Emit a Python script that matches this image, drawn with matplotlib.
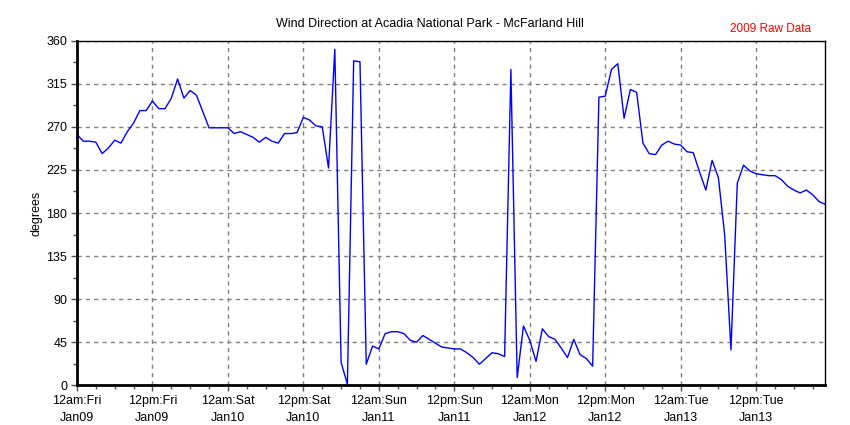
import matplotlib
matplotlib.use("Agg")
import matplotlib.pyplot as plt
from matplotlib.ticker import MultipleLocator

plt.rcParams['font.family'] = ['Liberation Sans', 'DejaVu Sans']

# hourly wind direction, starting 12am Fri Jan09
hours = list(range(120))
direction = [
    262, 255, 255, 254, 242, 248, 256, 253, 265, 274,
    287, 287, 297, 289, 289, 300, 320, 300, 308, 303,
    286, 269, 269, 269, 269, 263, 265, 262, 259, 254,
    259, 255, 253, 263, 263, 264, 280, 277, 271, 270,
    227, 351, 24, 1, 339, 338, 22, 41, 38, 54,
    56, 56, 54, 47, 45, 52, 48, 44, 40, 39,
    38, 38, 34, 29, 22, 28, 34, 33, 30, 330,
    8, 62, 47, 25, 59, 51, 48, 39, 29, 48,
    32, 28, 20, 301, 302, 330, 336, 279, 309, 306,
    253, 242, 241, 251, 255, 252, 251, 244, 243, 223,
    204, 235, 217, 157, 37, 211, 230, 224, 221, 220,
    219, 219, 215, 208, 204, 201, 204, 199, 192, 189,
]

tick_hours = [0, 12, 24, 36, 48, 60, 72, 84, 96, 108]
tick_labels = [
    "12am:Fri\nJan09", "12pm:Fri\nJan09", "12am:Sat\nJan10", "12pm:Sat\nJan10",
    "12am:Sun\nJan11", "12pm:Sun\nJan11", "12am:Mon\nJan12", "12pm:Mon\nJan12",
    "12am:Tue\nJan13", "12pm:Tue\nJan13",
]
y_ticks = [0, 45, 90, 135, 180, 225, 270, 315, 360]

fig = plt.figure(figsize=(8.5, 4.25), dpi=100)
ax = fig.add_axes([77 / 850, 1 - 385.3 / 425, (825.3 - 77) / 850, (385.3 - 40.7) / 425])

ax.plot(hours, direction, color='#0000ff', linewidth=1.0)

ax.set_xlim(0, 119)
ax.set_ylim(0, 360)
ax.set_xticks(tick_hours)
ax.set_xticklabels(tick_labels, fontsize=9, linespacing=1.5)
ax.xaxis.set_minor_locator(MultipleLocator(3))
ax.set_yticks(y_ticks)
ax.set_yticklabels([str(v) for v in y_ticks], fontsize=9)
ax.yaxis.set_minor_locator(MultipleLocator(22.5))

ax.tick_params(which='major', direction='out', length=4, width=1, pad=3, color='#505050')
ax.tick_params(which='minor', direction='out', length=3, width=1, color='#505050')

ax.grid(True, which='major', color='#808080', linestyle=(0, (3, 3)), linewidth=1)
ax.set_axisbelow(True)

for side in ['left', 'bottom']:
    ax.spines[side].set_linewidth(2)
for side in ['top', 'right']:
    ax.spines[side].set_linewidth(1)

ax.set_ylabel('degrees', fontsize=9, labelpad=3)

fig.text(430 / 850, 1 - 24 / 425, 'Wind Direction at Acadia National Park - McFarland Hill',
         ha='center', va='center', fontsize=9)
fig.text(771 / 850, 1 - 29 / 425, '2009 Raw Data', ha='center', va='center',
         fontsize=8.5, color='#ff0000')

fig.savefig('out.png', dpi=100)
